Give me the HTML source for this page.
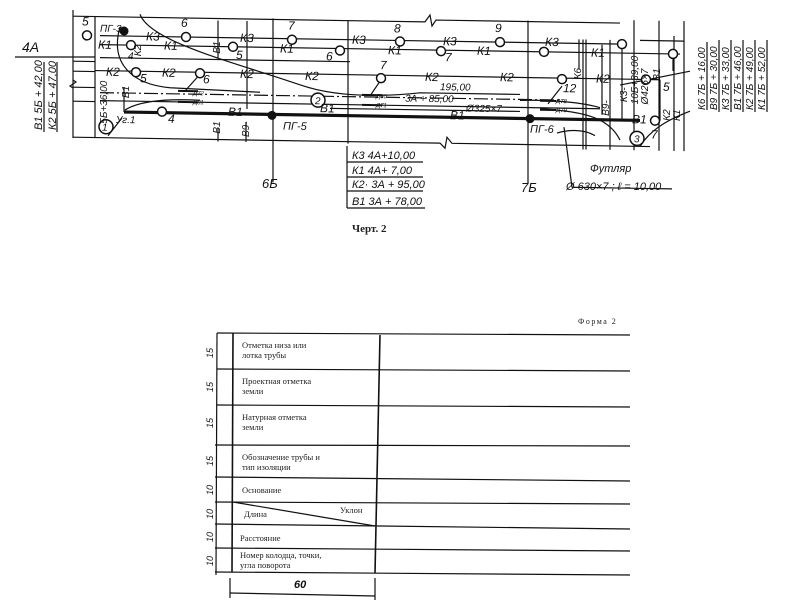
<!DOCTYPE html>
<html><head><meta charset="utf-8"><style>
html,body{margin:0;padding:0;background:#fff;}
svg{display:block;}
.t{font-family:"Liberation Sans",sans-serif;font-style:italic;fill:#111;}
.s{font-family:"Liberation Serif",serif;fill:#222;}
</style></head><body>
<svg width="804" height="615" viewBox="0 0 804 615" xmlns="http://www.w3.org/2000/svg">
<g stroke="#111" fill="none" stroke-width="1.2">
<line x1="15" y1="57" x2="95" y2="57"/>
<line x1="73" y1="10" x2="73" y2="138"/>
<line x1="44" y1="62" x2="44" y2="132"/>
<line x1="57" y1="62" x2="57" y2="132"/>
<polyline points="73,80 76,82 70,86 73,88"/>
</g>
<g transform="skewY(0.93)">
<g stroke="#111" fill="none" stroke-width="1.2">
<polyline points="73,15 425,15 430,8 432,19 436,13 620,13"/>
<polyline points="73,136 440,136 445,141 447,130 452,136 650,136"/>
<line x1="95" y1="15" x2="95" y2="136"/>
<line x1="73" y1="60" x2="95" y2="60"/>
<line x1="73" y1="70" x2="95" y2="70"/>
<line x1="73" y1="86" x2="95" y2="86"/>
<line x1="73" y1="100" x2="95" y2="100"/>
<line x1="273" y1="14" x2="273" y2="178"/>
<line x1="348" y1="15" x2="348" y2="138"/>
<line x1="528" y1="12" x2="528" y2="175"/>
<line x1="218" y1="17" x2="218" y2="55"/>
<line x1="218" y1="125" x2="218" y2="138"/>
<line x1="247" y1="17" x2="247" y2="105"/>
<line x1="246" y1="118" x2="246" y2="138"/>
<line x1="602" y1="35" x2="602" y2="105"/>
<line x1="610" y1="30" x2="610" y2="140"/>
<line x1="634" y1="10" x2="634" y2="140"/>
<line x1="659" y1="10" x2="659" y2="140"/>
<line x1="684" y1="10" x2="684" y2="140"/>
<line x1="674" y1="25" x2="674" y2="140"/>
<line x1="579" y1="30" x2="579" y2="60"/>
<line x1="583" y1="30" x2="583" y2="140"/>
<line x1="586" y1="30" x2="586" y2="140"/>
<line x1="640" y1="30" x2="684" y2="30"/>
<line x1="100" y1="34" x2="622" y2="34"/>
<line x1="100" y1="43" x2="680" y2="43"/>
<line x1="95" y1="69" x2="660" y2="69"/>
<line x1="100" y1="56" x2="350" y2="56"/>
<line x1="100" y1="91" x2="560" y2="91" stroke-dasharray="14,3,2,3"/>
<line x1="100" y1="99" x2="600" y2="99"/>
<line x1="330" y1="103" x2="520" y2="103"/>
<line x1="124" y1="85" x2="124" y2="110"/>
<line x1="622" y1="34" x2="622" y2="110"/>
<line x1="660" y1="69" x2="660" y2="110"/>
<line x1="673" y1="43" x2="673" y2="60"/>
<path d="M140,12 C150,40 240,60 300,80 C330,90 370,92 420,86 L520,86"/>
<path d="M120,25 C110,60 130,82 170,85 L260,88"/>
<path d="M125,108 C140,98 170,96 200,97"/>
<path d="M520,92 C560,90 590,95 600,98"/>
<path d="M540,100 C590,102 610,110 620,130"/>
<path d="M640,136 C650,120 665,110 690,100"/>
<path d="M620,75 L690,60"/>
<line x1="108" y1="134" x2="122" y2="116"/>
<line x1="380" y1="75" x2="370" y2="90"/>
<line x1="562" y1="77" x2="548" y2="95"/>
<line x1="200" y1="71" x2="185" y2="88"/>
<line x1="564" y1="118" x2="572" y2="178"/>
<line x1="572" y1="178" x2="672" y2="178"/>
<path d="M557,124 C570,120 585,120 595,126"/>
<line x1="124" y1="110" x2="640" y2="110" stroke-width="3.2"/>
</g>
<g stroke="#111" stroke-width="2">
<line x1="178" y1="88" x2="198" y2="88"/><line x1="178" y1="99" x2="198" y2="99"/>
<line x1="362" y1="89" x2="382" y2="89"/><line x1="362" y1="99" x2="382" y2="99"/>
<line x1="540" y1="92" x2="556" y2="92"/><line x1="540" y1="101" x2="556" y2="101"/>
</g>
<g stroke="#111" stroke-width="1.5" fill="#fff">
<circle cx="87" cy="34" r="4.5"/><circle cx="186" cy="34" r="4.5"/><circle cx="292" cy="35" r="4.5"/>
<circle cx="400" cy="35" r="4.5"/><circle cx="500" cy="34" r="4.5"/><circle cx="622" cy="34" r="4.5"/>
<circle cx="131" cy="43" r="4.5"/><circle cx="233" cy="43" r="4.5"/><circle cx="340" cy="45" r="4.5"/>
<circle cx="441" cy="44" r="4.5"/><circle cx="544" cy="43" r="4.5"/><circle cx="673" cy="43" r="4.5"/>
<circle cx="136" cy="70" r="4.5"/><circle cx="200" cy="70" r="4.5"/><circle cx="381" cy="72" r="4.5"/>
<circle cx="562" cy="70" r="4.5"/><circle cx="646" cy="69" r="4.5"/>
<circle cx="162" cy="109" r="4.5"/><circle cx="655" cy="110" r="4.5"/>
<circle cx="106" cy="125" r="7"/><circle cx="318" cy="95" r="7"/><circle cx="637" cy="128" r="7"/>
</g>
<g fill="#111"><circle cx="124" cy="29" r="4.5"/><circle cx="272" cy="111" r="4.5"/><circle cx="530" cy="110" r="4.5"/></g>
<g class="t" font-size="12">
<text x="82" y="24">5</text><text x="181" y="24">6</text><text x="288" y="25">7</text><text x="394" y="26">8</text><text x="495" y="24">9</text>
<text x="100" y="30" font-size="10">ПГ-3</text>
<text x="146" y="38">К3</text><text x="240" y="38">К3</text><text x="352" y="38">К3</text><text x="443" y="38">К3</text><text x="545" y="37">К3</text>
<text x="98" y="47">К1</text><text x="164" y="47">К1</text><text x="280" y="48">К1</text><text x="388" y="48">К1</text><text x="477" y="47">К1</text><text x="591" y="47">К1</text>
<text x="128" y="57" font-size="10">4</text><text x="236" y="55">5</text><text x="326" y="55">6</text><text x="445" y="54">7</text>
<text x="106" y="74">К2</text><text x="162" y="74">К2</text><text x="240" y="74">К2</text><text x="305" y="75">К2</text><text x="425" y="74">К2</text><text x="500" y="73">К2</text><text x="596" y="73">К2</text>
<text x="140" y="80">5</text><text x="203" y="80">6</text><text x="380" y="63">7</text><text x="563" y="83">12</text><text x="663" y="80">5</text><text x="651" y="128">7</text>
<text x="168" y="120">4</text><text x="320" y="107">В1</text><text x="228" y="112">В1</text><text x="450" y="112">В1</text><text x="632" y="113">В1</text>
<text x="283" y="125" font-size="11">ПГ-5</text><text x="530" y="124" font-size="11">ПГ-6</text>
<text x="116" y="121" font-size="10">Уг.1</text>
<text x="102" y="129" font-size="10">1</text><text x="315" y="99" font-size="10">2</text><text x="634" y="132" font-size="10">3</text>
<text x="440" y="83" font-size="10">195,00</text><text x="405" y="95" font-size="10">3А + 85,00</text><text x="466" y="104" font-size="10">Ø325×7</text>
<text x="193" y="92" font-size="6">Д72</text><text x="193" y="101" font-size="6">Д81</text>
<text x="376" y="92" font-size="6">Д80</text><text x="376" y="101" font-size="6">Д71</text>
<text x="556" y="94" font-size="6">Д78</text><text x="556" y="103" font-size="6">Д79</text>
</g>
<g class="t" font-size="10">
<text transform="translate(107,122) rotate(-90)">5Б+36,00</text>
<text transform="translate(129,96) rotate(-90)">В1</text>
<text transform="translate(220,50) rotate(-90)">В1</text>
<text transform="translate(220,130) rotate(-90)">В1</text>
<text transform="translate(249,133) rotate(-90)">В9-</text>
<text transform="translate(141,54) rotate(-90)">К2</text>
<text transform="translate(581,70) rotate(-90)">К6</text>
<text transform="translate(609,106) rotate(-90)">В9-</text>
<text transform="translate(627,92) rotate(-90)">К3-</text>
<text transform="translate(638,94) rotate(-90)">10Б+39,00</text>
<text transform="translate(648,94) rotate(-90)">Ø426×7</text>
<text transform="translate(660,70) rotate(-90)">В1</text>
<text transform="translate(670,110) rotate(-90)">К2</text>
<text transform="translate(680,110) rotate(-90)">К1</text>
</g>
</g>
<g class="t">
<text x="22" y="52" font-size="14">4А</text>
<text transform="translate(42,130) rotate(-90)" font-size="11">В1 5Б + 42,00</text>
<text transform="translate(56,130) rotate(-90)" font-size="11">К2 5Б + 47,00</text>
<text x="262" y="188" font-size="13">6Б</text>
<text x="521" y="192" font-size="13">7Б</text>
<text x="590" y="172" font-size="11">Футляр</text>
<text x="566" y="190" font-size="11">Ø 630×7 ; ℓ = 10,00</text>
</g>
<g stroke="#111" fill="none" stroke-width="1.2">
<line x1="347" y1="146" x2="347" y2="208"/>
<line x1="347" y1="162" x2="423" y2="162"/><line x1="347" y1="177" x2="423" y2="177"/>
<line x1="347" y1="191" x2="423" y2="191"/><line x1="347" y1="208" x2="425" y2="208"/>
</g>
<g class="t" font-size="11">
<text x="352" y="159">К3  4А+10,00</text><text x="352" y="174">К1   4А+  7,00</text>
<text x="352" y="188">К2· 3А + 95,00</text><text x="352" y="205">В1  3А + 78,00</text>
</g>
<g stroke="#111" stroke-width="1.2">
<line x1="707" y1="42" x2="707" y2="110"/><line x1="719" y1="40" x2="719" y2="112"/>
<line x1="731" y1="40" x2="731" y2="112"/><line x1="743" y1="40" x2="743" y2="112"/>
<line x1="755" y1="40" x2="755" y2="112"/><line x1="767" y1="40" x2="767" y2="112"/>
</g>
<g class="t" font-size="10">
<text transform="translate(705,110) rotate(-90)">К6  7Б + 16,00</text>
<text transform="translate(717,110) rotate(-90)">В9  7Б + 30,00</text>
<text transform="translate(729,110) rotate(-90)">К3  7Б + 33,00</text>
<text transform="translate(741,110) rotate(-90)">В1  7Б + 46,00</text>
<text transform="translate(753,110) rotate(-90)">К2  7Б + 49,00</text>
<text transform="translate(765,110) rotate(-90)">К1  7Б + 52,00</text>
</g>
<text x="352" y="232" class="s" font-size="11" font-weight="bold">Черт. 2</text>
<text x="578" y="324" class="s" font-size="8" letter-spacing="1.5">Форма 2</text>
<g stroke="#111" fill="none" stroke-width="1.2">
<line x1="217" y1="333" x2="630" y2="335"/>
<line x1="217" y1="369" x2="630" y2="371"/>
<line x1="217" y1="405" x2="630" y2="407"/>
<line x1="215" y1="445" x2="630" y2="446"/>
<line x1="215" y1="477" x2="630" y2="481"/>
<line x1="215" y1="502" x2="630" y2="504"/>
<line x1="215" y1="524" x2="630" y2="529"/>
<line x1="215" y1="548" x2="630" y2="551"/>
<line x1="215" y1="572" x2="630" y2="575"/>
<line x1="233" y1="333" x2="232" y2="572" stroke-width="1.6"/>
<line x1="380" y1="335" x2="375" y2="573" stroke-width="1.6"/>
<line x1="217" y1="333" x2="216" y2="575"/>
<line x1="233" y1="502" x2="375" y2="526"/>
<line x1="230" y1="593" x2="375" y2="596"/>
<line x1="230" y1="578" x2="230" y2="598"/>
<line x1="375" y1="578" x2="375" y2="600"/>
</g>
<g class="s" font-size="8.5">
<text x="242" y="348">Отметка низа или</text><text x="242" y="358">лотка трубы</text>
<text x="242" y="384">Проектная отметка</text><text x="242" y="394">земли</text>
<text x="242" y="420">Натурная отметка</text><text x="242" y="430">земли</text>
<text x="242" y="460">Обозначение трубы и</text><text x="242" y="470">тип изоляции</text>
<text x="242" y="493">Основание</text>
<text x="244" y="517">Длина</text><text x="340" y="513">Уклон</text>
<text x="240" y="541">Расстояние</text>
<text x="240" y="558">Номер колодца, точки,</text><text x="240" y="568">угла поворота</text>
</g>
<g class="t" font-size="9">
<text transform="translate(213,358) rotate(-90)">15</text>
<text transform="translate(213,392) rotate(-90)">15</text>
<text transform="translate(213,428) rotate(-90)">15</text>
<text transform="translate(213,466) rotate(-90)">15</text>
<text transform="translate(213,495) rotate(-90)">10</text>
<text transform="translate(213,519) rotate(-90)">10</text>
<text transform="translate(213,542) rotate(-90)">10</text>
<text transform="translate(213,566) rotate(-90)">10</text>
<text x="294" y="588" font-size="11" font-weight="bold">60</text>
</g>
</svg>
</body></html>
